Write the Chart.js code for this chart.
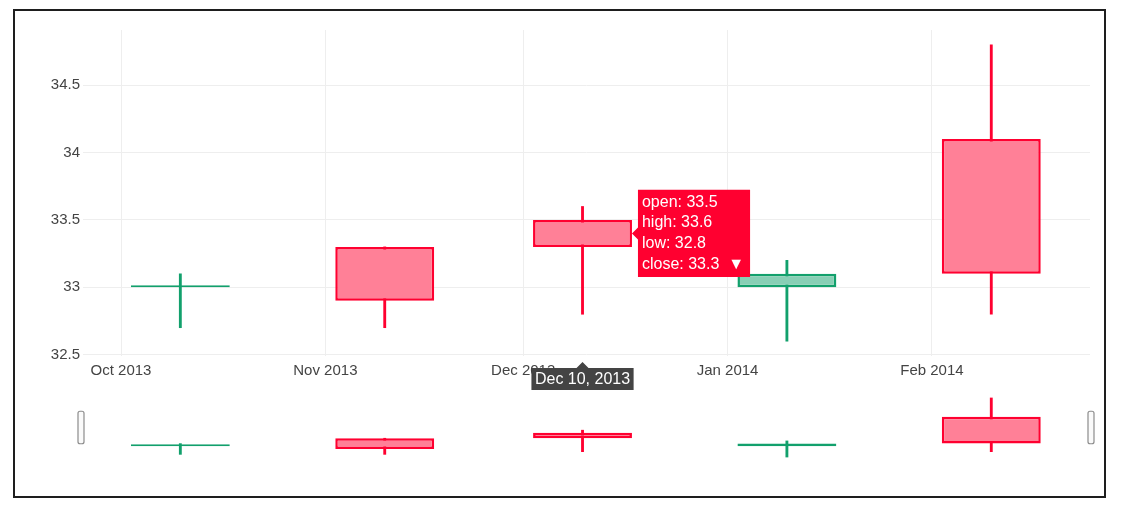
<!DOCTYPE html>
<html>
<head>
<meta charset="utf-8">
<script src="https://cdn.jsdelivr.net/npm/chart.js@4.4.0/dist/chart.umd.min.js"></script>
<style>
  html, body { margin: 0; padding: 0; background: #fff; }
  body { width: 1123px; height: 518px; position: relative; overflow: hidden; }
  #frame { position: absolute; left: 13px; top: 9px; width: 1093px; height: 489px; box-sizing: border-box; border: 2px solid #1e1e1e; }
  #mainWrap { position: absolute; left: 0; top: 0; width: 1123px; height: 395px; }
  #sliderWrap { position: absolute; left: 0; top: 385px; width: 1123px; height: 90px; }
</style>
</head>
<body>
<div id="frame"></div>
<div id="mainWrap"><canvas id="mainChart"></canvas></div>
<div id="sliderWrap"><canvas id="sliderChart"></canvas></div>
<script>
const dates = ["2013-10-10", "2013-11-10", "2013-12-10", "2014-01-10", "2014-02-10"];
const opens = [33.0, 33.3, 33.5, 33.0, 34.1];
const highs = [33.1, 33.3, 33.6, 33.2, 34.8];
const lows = [32.7, 32.7, 32.8, 32.6, 32.8];
const closes = [33.0, 32.9, 33.3, 33.1, 33.1];

const monthTicks = ["2013-10-01", "2013-11-01", "2013-12-01", "2014-01-01", "2014-02-01"];
const monthLabels = ["Oct 2013", "Nov 2013", "Dec 2013", "Jan 2014", "Feb 2014"];
const yTicks = [32.5, 33, 33.5, 34, 34.5];
const xRange = ["2013-09-25T05:40:00Z", "2014-02-24T23:20:00Z"];
const yRange = [32.49, 34.91];
const hoverIndex = 2;
const monthNames = ["Jan", "Feb", "Mar", "Apr", "May", "Jun", "Jul", "Aug", "Sep", "Oct", "Nov", "Dec"];

const FONT = '"Liberation Sans", Arial, sans-serif';
const upLine = "#12a06c";
const upFill = "#88cfb5";
const downLine = "#ff0030";
const downFill = "#ff8097";

const isUp = (i) => closes[i] >= opens[i];
const lineColors = dates.map((d, i) => (isUp(i) ? upLine : downLine));
const fillColors = dates.map((d, i) => (isUp(i) ? upFill : downFill));

function candleDatasets() {
  return [
    {
      label: "body",
      data: dates.map((d, i) => ({ x: Date.parse(d), y: [opens[i], closes[i]] })),
      backgroundColor: fillColors,
      borderColor: lineColors,
      borderWidth: 2.5,
      borderSkipped: false,
      grouped: false,
      barPercentage: 0.5,
      categoryPercentage: 1,
      minBarLength: 2,
    },
    {
      label: "wick",
      data: dates.map((d, i) => ({ x: Date.parse(d), y: [lows[i], highs[i]] })),
      backgroundColor: lineColors,
      borderWidth: 0,
      grouped: false,
      barThickness: 2.2,
    },
  ];
}

function fmtDate(s) {
  const d = new Date(Date.parse(s));
  return `${monthNames[d.getUTCMonth()]} ${d.getUTCDate()}, ${d.getUTCFullYear()}`;
}

const setTicks = (list) => (axis) => {
  axis.ticks = list.map((v) => ({ value: v }));
};

Chart.Tooltip.positioners.candleRight = function (items) {
  if (!items.length) return false;
  const el = items[0].element;
  return { x: el.x + el.width / 2, y: (el.y + el.base) / 2 };
};

// date label under the x axis for the hovered candle
const hoverAxisLabel = {
  id: "hoverAxisLabel",
  afterDraw(chart) {
    const { ctx, chartArea, scales } = chart;
    const x = scales.x.getPixelForValue(Date.parse(dates[hoverIndex]));
    const text = fmtDate(dates[hoverIndex]);
    ctx.save();
    ctx.font = `16px ${FONT}`;
    const w = ctx.measureText(text).width + 7;
    const top = chartArea.bottom + 12;
    const h = 22;
    ctx.fillStyle = "#444";
    ctx.beginPath();
    ctx.moveTo(x, chartArea.bottom + 6);
    ctx.lineTo(x + 6, top);
    ctx.lineTo(x + w / 2, top);
    ctx.lineTo(x + w / 2, top + h);
    ctx.lineTo(x - w / 2, top + h);
    ctx.lineTo(x - w / 2, top);
    ctx.lineTo(x - 6, top);
    ctx.closePath();
    ctx.fill();
    ctx.fillStyle = "#fff";
    ctx.textAlign = "center";
    ctx.textBaseline = "middle";
    ctx.fillText(text, x, top + h / 2 + 1);
    ctx.restore();
  },
};

const sliderHandles = {
  id: "sliderHandles",
  afterDraw(chart) {
    const { ctx, chartArea } = chart;
    const h = (chartArea.bottom - chartArea.top) / 2;
    const midY = (chartArea.top + chartArea.bottom) / 2;
    ctx.save();
    [chartArea.left - 2, chartArea.right + 1].forEach((cx) => {
      ctx.beginPath();
      ctx.roundRect(cx - 3, midY - h / 2, 6, h, 2);
      ctx.fillStyle = "#fafafa";
      ctx.fill();
      ctx.lineWidth = 1.2;
      ctx.strokeStyle = "#8c8c8c";
      ctx.stroke();
    });
    ctx.restore();
  },
};

const mainChart = new Chart(document.getElementById("mainChart"), {
  type: "bar",
  data: { datasets: candleDatasets() },
  plugins: [hoverAxisLabel],
  options: {
    responsive: true,
    maintainAspectRatio: false,
    animation: false,
    events: [],
    layout: { padding: { left: 0, right: 33, top: 30, bottom: 0 } },
    plugins: {
      legend: { display: false },
      tooltip: {
        enabled: true,
        position: "candleRight",
        xAlign: "left",
        yAlign: "center",
        backgroundColor: isUp(hoverIndex) ? upLine : downLine,
        bodyColor: "#fff",
        bodyFont: { family: FONT, size: 16 },
        bodySpacing: 1.5,
        padding: { top: 3, bottom: 3, left: 4, right: 6 },
        caretSize: 6,
        caretPadding: 0,
        cornerRadius: 0,
        displayColors: false,
        filter: (item) => item.datasetIndex === 0,
        callbacks: {
          title: () => [],
          label: (ctx) => {
            const i = ctx.dataIndex;
            return [
              "open: " + opens[i],
              "high: " + highs[i],
              "low: " + lows[i],
              "close: " + closes[i] + "  " + (isUp(i) ? "▲" : "▼"),
            ];
          },
        },
      },
    },
    scales: {
      x: {
        type: "linear",
        offset: false,
        min: Date.parse(xRange[0]),
        max: Date.parse(xRange[1]),
        afterBuildTicks: setTicks(monthTicks.map((d) => Date.parse(d))),
        afterFit: (s) => { s.height = 39; },
        grid: { color: "#eee", drawTicks: false, offset: false },
        border: { display: false },
        ticks: {
          autoSkip: false,
          maxRotation: 0,
          padding: 6,
          color: "#444",
          font: { family: FONT, size: 15 },
          callback: (v, i) => monthLabels[i],
        },
      },
      y: {
        type: "linear",
        min: yRange[0],
        max: yRange[1],
        afterBuildTicks: setTicks(yTicks),
        afterFit: (s) => { s.width = 83; },
        grid: { color: "#eee", drawTicks: false },
        border: { display: false },
        ticks: {
          padding: 3,
          color: "#444",
          font: { family: FONT, size: 15 },
          callback: (v) => String(v),
        },
      },
    },
  },
});

mainChart.tooltip.setActiveElements([{ datasetIndex: 0, index: hoverIndex }], { x: 0, y: 0 });
mainChart.update();

new Chart(document.getElementById("sliderChart"), {
  type: "bar",
  data: { datasets: candleDatasets() },
  plugins: [sliderHandles],
  options: {
    responsive: true,
    maintainAspectRatio: false,
    animation: false,
    events: [],
    layout: { padding: { left: 83, right: 33, top: 10, bottom: 15 } },
    plugins: { legend: { display: false }, tooltip: { enabled: false } },
    scales: {
      x: {
        type: "linear",
        offset: false,
        min: Date.parse(xRange[0]),
        max: Date.parse(xRange[1]),
        afterBuildTicks: setTicks(monthTicks.map((d) => Date.parse(d))),
        afterFit: (s) => { s.height = 0; },
        grid: { display: false },
        border: { display: false },
        ticks: { display: false },
      },
      y: { type: "linear", display: false, min: yRange[0], max: yRange[1] },
    },
  },
});
</script>
</body>
</html>
